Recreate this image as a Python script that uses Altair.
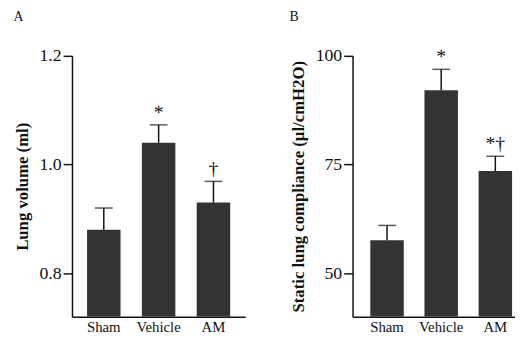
import altair as alt
import pandas as pd

groups = ["Sham", "Vehicle", "AM"]
vol_mean = [0.88, 1.04, 0.93]
vol_sem = [0.04, 0.033, 0.039]
vol_marks = ["", "*", "†"]
comp_mean = [57.6, 92.1, 73.5]
comp_sem = [3.4, 4.8, 3.4]
comp_marks = ["", "*", "*†"]

FONT = "Liberation Serif"
BAR = "#333333"

dfa = pd.DataFrame({"group": groups, "mean": vol_mean, "sem": vol_sem, "mark": vol_marks})
dfa["top"] = dfa["mean"] + dfa["sem"]
dfb = pd.DataFrame({"group": groups, "mean": comp_mean, "sem": comp_sem, "mark": comp_marks})
dfb["top"] = dfb["mean"] + dfb["sem"]


def panel(df, letter, ytitle, domain, ticks, fmt, width, pad_outer, align):
    xenc = alt.X("group:N", sort=groups, title=None,
                 scale=alt.Scale(paddingInner=0.38, paddingOuter=pad_outer, align=align),
                 axis=alt.Axis(labelAngle=0, ticks=False, labelPadding=3, labelFontSize=15,
                               labelFont=FONT, labelColor="#111", domainColor="#111",
                               domainWidth=1.5))
    yscale = alt.Scale(domain=domain, nice=False, zero=False)
    yaxis = alt.Axis(values=ticks, format=fmt, grid=False, tickSize=9, tickWidth=1.5,
                     tickColor="#111", domainColor="#111", domainWidth=1.5,
                     labelFontSize=18, labelFont=FONT, labelColor="#111", labelPadding=2,
                     title=ytitle, titleFont=FONT, titleFontSize=17, titleFontWeight="bold",
                     titleColor="#111", titlePadding=8)
    base = alt.Chart(df)
    bars = base.mark_bar(color=BAR, size=34, clip=True).encode(
        x=xenc, y=alt.Y("mean:Q", scale=yscale, axis=yaxis), y2=alt.datum(domain[0]))
    rule = base.mark_rule(color="#111", strokeWidth=1.5).encode(
        x=alt.X("group:N", sort=groups), y="mean:Q", y2="top:Q")
    cap = base.mark_tick(color="#111", thickness=1.5, size=18, orient="horizontal").encode(
        x=alt.X("group:N", sort=groups), y="top:Q")
    txt = base.mark_text(font=FONT, fontSize=20, fill="#111", color="#111", dy=-2,
                         baseline="bottom").encode(
        x=alt.X("group:N", sort=groups), y="top:Q", text="mark:N")
    return alt.layer(bars, rule, cap, txt).properties(
        width=width, height=265,
        title=alt.TitleParams(letter, anchor="start", frame="bounds", font=FONT,
                              fontSize=14, fontWeight="normal", color="#111", offset=23))


a = panel(dfa, "A", "Lung volume (ml)", [0.72, 1.2], [0.8, 1.0, 1.2], ".1f", 176, 0.27, 0.5)
b = panel(dfb, "B", "Static lung compliance (µl/cmH2O)", [40, 100], [50, 75, 100], "d", 165, 0.19, 0.86)

chart = alt.hconcat(a, b, spacing=44).configure_view(stroke=None).properties(
    padding={"left": 5, "top": 0, "right": 0, "bottom": 0}
)
chart.save("out.html", embed_options={"renderer": "svg", "actions": False})
